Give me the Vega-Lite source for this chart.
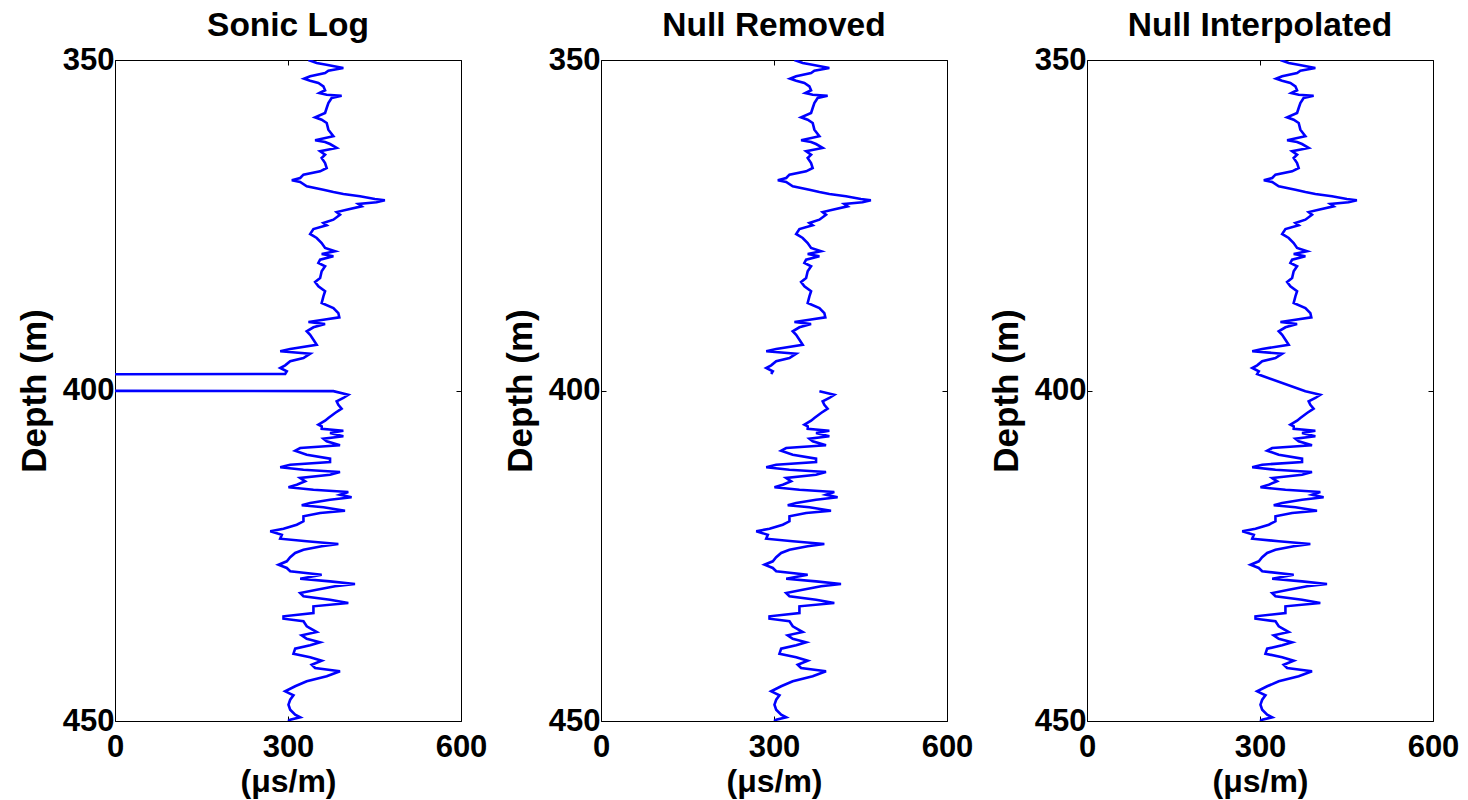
{
  "$schema": "https://vega.github.io/schema/vega-lite/v6.json",
  "background": "white",
  "padding": {"left": 16, "top": 8, "right": 5, "bottom": 5},
  "spacing": 140,
  "bounds": "flush",
  "datasets": {
    "log": [
      {"d": 350.0, "v": 335.4, "s": "a"}, {"d": 350.45, "v": 349.8, "s": "a"}, {"d": 350.71, "v": 366.5, "s": "a"}, {"d": 351.21, "v": 396.0, "s": "a"},
      {"d": 351.62, "v": 370.0, "s": "a"}, {"d": 351.97, "v": 364.3, "s": "a"}, {"d": 352.47, "v": 338.4, "s": "a"}, {"d": 352.83, "v": 328.0, "s": "a"},
      {"d": 353.13, "v": 338.4, "s": "a"}, {"d": 353.48, "v": 352.7, "s": "a"}, {"d": 353.98, "v": 361.4, "s": "a"}, {"d": 354.58, "v": 364.3, "s": "a"},
      {"d": 354.99, "v": 354.4, "s": "a"}, {"d": 355.25, "v": 367.1, "s": "a"}, {"d": 355.4, "v": 393.0, "s": "a"}, {"d": 355.75, "v": 375.7, "s": "a"},
      {"d": 356.51, "v": 370.0, "s": "a"}, {"d": 357.26, "v": 367.1, "s": "a"}, {"d": 358.02, "v": 364.3, "s": "a"}, {"d": 358.67, "v": 347.0, "s": "a"},
      {"d": 359.03, "v": 358.4, "s": "a"}, {"d": 359.53, "v": 367.1, "s": "a"}, {"d": 360.54, "v": 370.0, "s": "a"}, {"d": 361.54, "v": 378.7, "s": "a"},
      {"d": 362.15, "v": 347.0, "s": "a"}, {"d": 362.41, "v": 364.3, "s": "a"}, {"d": 362.71, "v": 372.9, "s": "a"}, {"d": 363.31, "v": 384.4, "s": "a"},
      {"d": 363.81, "v": 355.7, "s": "a"}, {"d": 364.33, "v": 364.3, "s": "a"}, {"d": 364.83, "v": 358.4, "s": "a"}, {"d": 365.58, "v": 364.3, "s": "a"},
      {"d": 366.34, "v": 367.1, "s": "a"}, {"d": 366.84, "v": 355.7, "s": "a"}, {"d": 367.35, "v": 326.8, "s": "a"}, {"d": 367.85, "v": 321.1, "s": "a"},
      {"d": 368.2, "v": 306.6, "s": "a"}, {"d": 368.46, "v": 321.1, "s": "a"}, {"d": 369.11, "v": 332.5, "s": "a"}, {"d": 369.62, "v": 361.4, "s": "a"},
      {"d": 369.97, "v": 378.7, "s": "a"}, {"d": 370.27, "v": 396.0, "s": "a"}, {"d": 370.62, "v": 424.8, "s": "a"}, {"d": 371.03, "v": 450.7, "s": "a"},
      {"d": 371.23, "v": 468.0, "s": "a"}, {"d": 371.53, "v": 453.5, "s": "a"}, {"d": 371.79, "v": 421.9, "s": "a"}, {"d": 372.13, "v": 427.6, "s": "a"},
      {"d": 372.65, "v": 401.6, "s": "a"}, {"d": 373.0, "v": 384.4, "s": "a"}, {"d": 373.4, "v": 390.2, "s": "a"}, {"d": 374.16, "v": 378.7, "s": "a"},
      {"d": 374.66, "v": 361.4, "s": "a"}, {"d": 375.01, "v": 367.1, "s": "a"}, {"d": 375.57, "v": 344.1, "s": "a"}, {"d": 376.32, "v": 338.4, "s": "a"},
      {"d": 376.93, "v": 349.8, "s": "a"}, {"d": 377.69, "v": 358.4, "s": "a"}, {"d": 378.44, "v": 364.3, "s": "a"}, {"d": 378.94, "v": 381.6, "s": "a"},
      {"d": 379.35, "v": 358.4, "s": "a"}, {"d": 379.7, "v": 378.7, "s": "a"}, {"d": 380.21, "v": 355.7, "s": "a"}, {"d": 380.71, "v": 352.7, "s": "a"},
      {"d": 381.21, "v": 364.3, "s": "a"}, {"d": 381.97, "v": 358.4, "s": "a"}, {"d": 382.98, "v": 355.7, "s": "a"}, {"d": 383.59, "v": 347.0, "s": "a"},
      {"d": 384.24, "v": 352.7, "s": "a"}, {"d": 384.99, "v": 364.3, "s": "a"}, {"d": 385.75, "v": 361.4, "s": "a"}, {"d": 386.76, "v": 358.4, "s": "a"},
      {"d": 387.52, "v": 378.7, "s": "a"}, {"d": 388.28, "v": 387.3, "s": "a"}, {"d": 388.93, "v": 389.0, "s": "a"}, {"d": 389.29, "v": 361.4, "s": "a"},
      {"d": 389.64, "v": 335.4, "s": "a"}, {"d": 389.94, "v": 364.3, "s": "a"}, {"d": 390.44, "v": 344.1, "s": "a"}, {"d": 391.04, "v": 332.5, "s": "a"},
      {"d": 391.56, "v": 338.4, "s": "a"}, {"d": 392.31, "v": 344.1, "s": "a"}, {"d": 393.07, "v": 349.8, "s": "a"}, {"d": 393.72, "v": 303.8, "s": "a"},
      {"d": 394.07, "v": 286.5, "s": "a"}, {"d": 394.43, "v": 338.4, "s": "a"}, {"d": 395.08, "v": 326.8, "s": "a"}, {"d": 395.58, "v": 303.8, "s": "a"},
      {"d": 396.19, "v": 295.1, "s": "a"}, {"d": 396.6, "v": 286.5, "s": "a"}, {"d": 397.1, "v": 297.9, "s": "a"}, {"d": 397.5, "v": 295.1, "s": "a"},
      {"d": 397.65, "v": -999.25, "s": "n"}, {"d": 399.95, "v": -999.25, "s": "n"},
      {"d": 400.1, "v": 378.7, "s": "b"}, {"d": 400.64, "v": 404.6, "s": "b"}, {"d": 401.13, "v": 396.0, "s": "b"}, {"d": 401.63, "v": 384.4, "s": "b"},
      {"d": 402.15, "v": 387.3, "s": "b"}, {"d": 402.75, "v": 393.0, "s": "b"}, {"d": 403.4, "v": 381.6, "s": "b"}, {"d": 404.16, "v": 370.0, "s": "b"},
      {"d": 404.57, "v": 364.3, "s": "b"}, {"d": 405.17, "v": 352.7, "s": "b"}, {"d": 405.42, "v": 358.4, "s": "b"}, {"d": 405.78, "v": 358.4, "s": "b"},
      {"d": 406.08, "v": 396.0, "s": "b"}, {"d": 406.43, "v": 372.9, "s": "b"}, {"d": 406.93, "v": 396.0, "s": "b"}, {"d": 407.29, "v": 361.4, "s": "b"},
      {"d": 407.69, "v": 367.1, "s": "b"}, {"d": 408.29, "v": 390.2, "s": "b"}, {"d": 408.7, "v": 321.1, "s": "b"}, {"d": 409.11, "v": 312.4, "s": "b"},
      {"d": 409.71, "v": 332.5, "s": "b"}, {"d": 410.32, "v": 372.9, "s": "b"}, {"d": 410.82, "v": 372.9, "s": "b"}, {"d": 411.22, "v": 303.8, "s": "b"},
      {"d": 411.62, "v": 286.5, "s": "b"}, {"d": 411.98, "v": 326.8, "s": "b"}, {"d": 412.33, "v": 390.2, "s": "b"}, {"d": 412.74, "v": 372.9, "s": "b"},
      {"d": 413.24, "v": 321.1, "s": "b"}, {"d": 413.74, "v": 329.7, "s": "b"}, {"d": 414.25, "v": 315.2, "s": "b"}, {"d": 414.64, "v": 300.8, "s": "b"},
      {"d": 415.01, "v": 344.1, "s": "b"}, {"d": 415.36, "v": 404.6, "s": "b"}, {"d": 415.76, "v": 390.2, "s": "b"}, {"d": 416.16, "v": 410.3, "s": "b"},
      {"d": 416.52, "v": 372.9, "s": "b"}, {"d": 417.02, "v": 338.4, "s": "b"}, {"d": 417.37, "v": 323.8, "s": "b"}, {"d": 417.67, "v": 361.4, "s": "b"},
      {"d": 418.18, "v": 398.9, "s": "b"}, {"d": 418.53, "v": 355.7, "s": "b"}, {"d": 419.03, "v": 326.8, "s": "b"}, {"d": 419.79, "v": 326.8, "s": "b"},
      {"d": 420.3, "v": 315.2, "s": "b"}, {"d": 420.91, "v": 292.2, "s": "b"}, {"d": 421.3, "v": 269.2, "s": "b"}, {"d": 421.82, "v": 289.3, "s": "b"},
      {"d": 422.42, "v": 286.5, "s": "b"}, {"d": 422.81, "v": 332.5, "s": "b"}, {"d": 423.22, "v": 387.3, "s": "b"}, {"d": 423.57, "v": 358.4, "s": "b"},
      {"d": 424.08, "v": 326.8, "s": "b"}, {"d": 424.58, "v": 312.4, "s": "b"}, {"d": 425.23, "v": 303.8, "s": "b"}, {"d": 425.84, "v": 297.9, "s": "b"},
      {"d": 426.35, "v": 283.6, "s": "b"}, {"d": 426.85, "v": 297.9, "s": "b"}, {"d": 427.35, "v": 303.8, "s": "b"}, {"d": 427.87, "v": 358.4, "s": "b"},
      {"d": 428.47, "v": 321.1, "s": "b"}, {"d": 428.87, "v": 372.9, "s": "b"}, {"d": 429.27, "v": 416.2, "s": "b"}, {"d": 429.62, "v": 381.6, "s": "b"},
      {"d": 430.14, "v": 349.8, "s": "b"}, {"d": 430.64, "v": 321.1, "s": "b"}, {"d": 431.13, "v": 326.8, "s": "b"}, {"d": 431.65, "v": 372.9, "s": "b"},
      {"d": 432.15, "v": 404.6, "s": "b"}, {"d": 432.65, "v": 344.1, "s": "b"}, {"d": 433.66, "v": 344.1, "s": "b"}, {"d": 434.16, "v": 292.2, "s": "b"},
      {"d": 434.52, "v": 292.2, "s": "b"}, {"d": 434.92, "v": 326.8, "s": "b"}, {"d": 435.67, "v": 332.5, "s": "b"}, {"d": 436.54, "v": 349.8, "s": "b"},
      {"d": 437.04, "v": 323.8, "s": "b"}, {"d": 437.55, "v": 332.5, "s": "b"}, {"d": 438.09, "v": 355.7, "s": "b"}, {"d": 438.55, "v": 338.4, "s": "b"},
      {"d": 439.06, "v": 312.4, "s": "b"}, {"d": 439.82, "v": 309.5, "s": "b"}, {"d": 440.36, "v": 338.4, "s": "b"}, {"d": 440.88, "v": 358.4, "s": "b"},
      {"d": 441.48, "v": 341.1, "s": "b"}, {"d": 441.98, "v": 347.0, "s": "b"}, {"d": 442.48, "v": 390.2, "s": "b"}, {"d": 443.24, "v": 367.1, "s": "b"},
      {"d": 444.0, "v": 332.5, "s": "b"}, {"d": 444.75, "v": 312.4, "s": "b"}, {"d": 445.51, "v": 295.1, "s": "b"}, {"d": 446.11, "v": 309.5, "s": "b"},
      {"d": 446.78, "v": 303.8, "s": "b"}, {"d": 447.53, "v": 300.8, "s": "b"}, {"d": 448.29, "v": 303.8, "s": "b"}, {"d": 449.05, "v": 312.4, "s": "b"},
      {"d": 449.44, "v": 321.1, "s": "b"}, {"d": 449.8, "v": 303.8, "s": "b"}, {"d": 450.0, "v": 300.0, "s": "b"}
    ]
  },
  "hconcat": [
    {
      "width": 346, "height": 661,
      "title": "Sonic Log",
      "data": {"name": "log"},
      "layer": [
        {
          "mark": {"type": "line", "color": "#0000ff", "strokeWidth": 2.6, "clip": true},
          "encoding": {
            "x": {"field": "v", "type": "quantitative", "scale": {"domain": [0, 600]}, "axis": {"orient": "bottom", "values": [0, 300, 600], "title": "(μs/m)"}},
            "y": {"field": "d", "type": "quantitative", "scale": {"domain": [350, 450], "reverse": true}, "axis": {"orient": "left", "values": [350, 400, 450], "title": "Depth (m)"}},
            "order": {"field": "d", "type": "quantitative"}
          }
        },
        {
          "mark": {"type": "line", "strokeOpacity": 0, "clip": true},
          "encoding": {
            "x": {"field": "v", "type": "quantitative", "axis": {"orient": "top", "values": [0, 300, 600], "labels": false, "title": null}},
            "y": {"field": "d", "type": "quantitative", "axis": {"orient": "right", "values": [350, 400, 450], "labels": false, "title": null}},
            "order": {"field": "d", "type": "quantitative"}
          }
        }
      ],
      "resolve": {"axis": {"x": "independent", "y": "independent"}}
    },
    {
      "width": 346, "height": 661,
      "title": "Null Removed",
      "data": {"name": "log"},
      "transform": [{"filter": "datum.s !== 'n'"}],
      "layer": [
        {
          "mark": {"type": "line", "color": "#0000ff", "strokeWidth": 2.6, "clip": true},
          "encoding": {
            "x": {"field": "v", "type": "quantitative", "scale": {"domain": [0, 600]}, "axis": {"orient": "bottom", "values": [0, 300, 600], "title": "(μs/m)"}},
            "y": {"field": "d", "type": "quantitative", "scale": {"domain": [350, 450], "reverse": true}, "axis": {"orient": "left", "values": [350, 400, 450], "title": "Depth (m)"}},
            "detail": {"field": "s", "type": "nominal"},
            "order": {"field": "d", "type": "quantitative"}
          }
        },
        {
          "mark": {"type": "line", "strokeOpacity": 0, "clip": true},
          "encoding": {
            "x": {"field": "v", "type": "quantitative", "axis": {"orient": "top", "values": [0, 300, 600], "labels": false, "title": null}},
            "y": {"field": "d", "type": "quantitative", "axis": {"orient": "right", "values": [350, 400, 450], "labels": false, "title": null}},
            "order": {"field": "d", "type": "quantitative"}
          }
        }
      ],
      "resolve": {"axis": {"x": "independent", "y": "independent"}}
    },
    {
      "width": 346, "height": 661,
      "title": "Null Interpolated",
      "data": {"name": "log"},
      "transform": [{"filter": "datum.s !== 'n'"}],
      "layer": [
        {
          "mark": {"type": "line", "color": "#0000ff", "strokeWidth": 2.6, "clip": true},
          "encoding": {
            "x": {"field": "v", "type": "quantitative", "scale": {"domain": [0, 600]}, "axis": {"orient": "bottom", "values": [0, 300, 600], "title": "(μs/m)"}},
            "y": {"field": "d", "type": "quantitative", "scale": {"domain": [350, 450], "reverse": true}, "axis": {"orient": "left", "values": [350, 400, 450], "title": "Depth (m)"}},
            "order": {"field": "d", "type": "quantitative"}
          }
        },
        {
          "mark": {"type": "line", "strokeOpacity": 0, "clip": true},
          "encoding": {
            "x": {"field": "v", "type": "quantitative", "axis": {"orient": "top", "values": [0, 300, 600], "labels": false, "title": null}},
            "y": {"field": "d", "type": "quantitative", "axis": {"orient": "right", "values": [350, 400, 450], "labels": false, "title": null}},
            "order": {"field": "d", "type": "quantitative"}
          }
        }
      ],
      "resolve": {"axis": {"x": "independent", "y": "independent"}}
    }
  ],
  "config": {
    "font": "Liberation Sans",
    "view": {"stroke": "black", "strokeWidth": 1},
    "title": {"fontSize": 33.5, "fontWeight": "bold", "color": "black", "font": "Liberation Sans", "offset": 1},
    "axis": {
      "grid": false,
      "domain": false,
      "tickColor": "black",
      "tickSize": -5,
      "labelFont": "Liberation Sans",
      "labelFontSize": 31,
      "labelFontWeight": "bold",
      "labelColor": "black",
      "labelFlush": false,
      "labelOverlap": false,
      "labelPadding": 6,
      "titleFont": "Liberation Sans",
      "titleFontSize": 32,
      "titleFontWeight": "bold",
      "titleColor": "black"
    },
    "axisX": {"titlePadding": 4, "labelPadding": 16},
    "axisY": {"titlePadding": 10, "titleFontSize": 35}
  }
}
